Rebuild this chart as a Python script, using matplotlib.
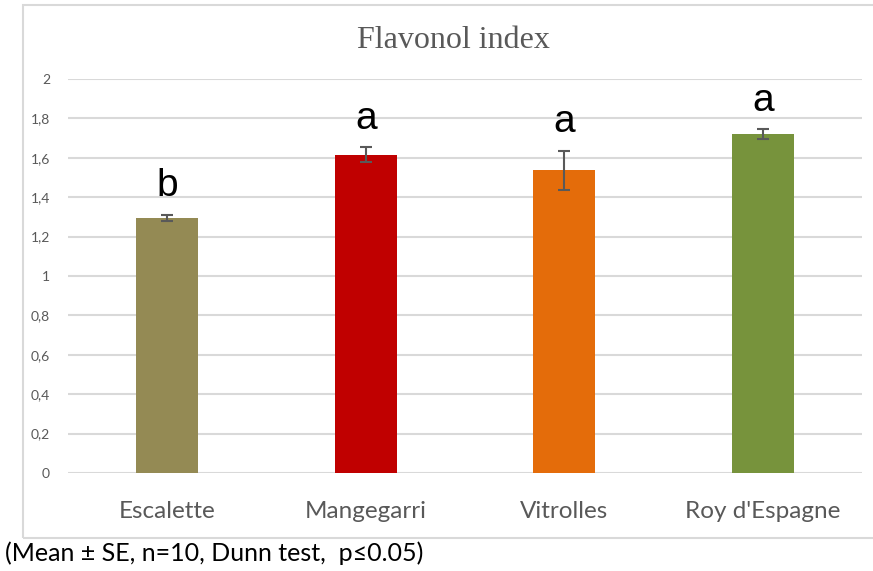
import numpy as np
import matplotlib
matplotlib.use("Agg")
import matplotlib.pyplot as plt
from matplotlib.patches import Rectangle

# data
sites = ["Escalette", "Mangegarri", "Vitrolles", "Roy d'Espagne"]
means = [1.295, 1.615, 1.537, 1.72]
errors = [0.015, 0.038, 0.10, 0.024]
letters = ["b", "a", "a", "a"]
bar_colors = ["#948A54", "#C00000", "#E46C0A", "#77933C"]
yticks = [0, 0.2, 0.4, 0.6, 0.8, 1.0, 1.2, 1.4, 1.6, 1.8, 2.0]

plt.rcParams['font.family'] = ['Lato', 'DejaVu Sans']

fig = plt.figure(figsize=(8.73, 5.71), dpi=100)
ax = fig.add_axes([68 / 873, 1 - 473 / 571, (862 - 68) / 873, (473 - 79) / 571])

x = np.arange(len(sites))
ax.bar(x, means, width=0.31, color=bar_colors, zorder=3)
ax.errorbar(x, means, yerr=errors, fmt='none', ecolor='#595959',
            elinewidth=1.5, capsize=4, capthick=1.5, zorder=4)

for xi, m, e, lab in zip(x, means, errors, letters):
    ax.text(xi, m + e + 0.145, lab, ha='center', va='center',
            fontsize=28, color='black', family=['Liberation Sans', 'DejaVu Sans'])

ax.set_xlim(-0.5, 3.5)
ax.set_ylim(0, 2)
ax.set_yticks(yticks)
ax.set_yticklabels([f"{v:g}".replace('.', ',') for v in yticks],
                   fontsize=10, color='#595959')
ax.set_xticks(x)
ax.set_xticklabels(sites, fontsize=17.5, color='#595959')
ax.tick_params(axis='y', length=0, pad=13)
ax.tick_params(axis='x', length=0, pad=20)
ax.grid(axis='y', color='#d9d9d9', linewidth=1.5, zorder=0)
for s in ax.spines.values():
    s.set_visible(False)

# outer chart frame
fig.patches.append(Rectangle((23 / 873, 1 - 538 / 571), 1.0, (538 - 5) / 571,
                             transform=fig.transFigure, fill=False,
                             edgecolor='#d9d9d9', linewidth=1.5))

fig.text(0.519, 1 - 40 / 571, "Flavonol index", ha='center', va='center',
         fontsize=23, color='#595959', family=['Liberation Serif', 'DejaVu Serif'])
fig.text(5 / 873, 1 - 553 / 571, "(Mean \u00b1 SE, n=10, Dunn test,  p\u22640.05)",
         ha='left', va='center', fontsize=18, color='black')

fig.savefig("out.png", dpi=100)
